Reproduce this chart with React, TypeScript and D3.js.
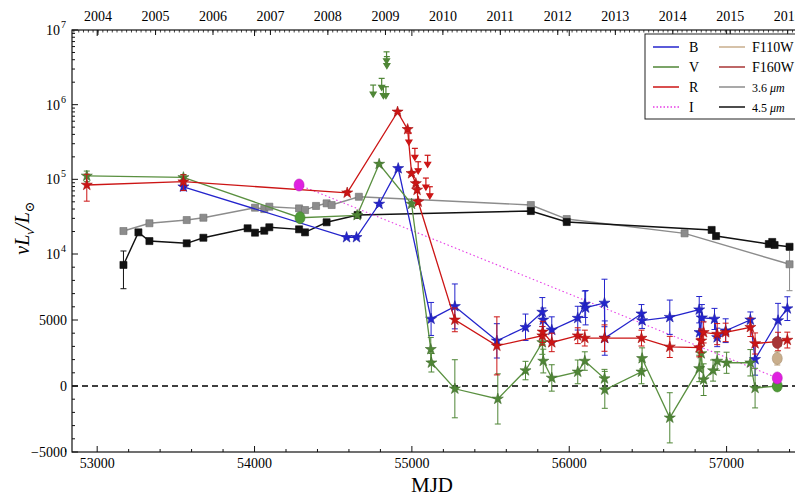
import React from 'react';
import * as d3 from 'd3';

// [MJD, nuL_nu / L_sun, error]
const bBand = [
  [53548, 79500, 9000], [54585, 16700, 600], [54648, 16700, 600], [54792, 46700, 2000],
  [54913, 140000, 5000], [55122, 5080, 1250], [55273, 6030, 1700], [55540, 3420, 1300],
  [55722, 4450, 1000], [55829, 5600, 1100], [55835, 5010, 900], [55889, 4240, 1000],
  [56054, 5140, 900], [56099, 6190, 1000], [56104, 5930, 1300], [56224, 6290, 1800],
  [56226, 3630, 1300], [56459, 5470, 700], [56463, 4960, 600], [56639, 5210, 1300],
  [56826, 5780, 1000], [56828, 4060, 1200], [56843, 5170, 1000], [56923, 5080, 800],
  [56940, 3680, 700], [56994, 4190, 900], [57151, 5010, 600], [57181, 2020, 1200],
  [57327, 4960, 1300], [57386, 5860, 900],
];
const vBand = [
  [52934, 111000, 18000], [53548, 106000, 10000], [54289, 30600, 2000], [54652, 33000, 2000],
  [54792, 160000, 8000], [54998, 46700, 3000], [55120, 2780, 900], [55124, 1760, 700],
  [55273, -210, 2200], [55546, -980, 1900], [55722, 1170, 700], [55829, 3300, 900],
  [55835, 1890, 900], [55889, 610, 1000], [56054, 1070, 900], [56099, 1890, 700],
  [56224, 560, 700], [56226, -290, 1400], [56459, 1070, 900], [56463, 2090, 800],
  [56639, -2410, 1900], [56826, 1330, 1000], [56839, 2460, 1000], [56854, 480, 1200],
  [56914, 1170, 800], [56940, 1890, 700], [57000, 1760, 800], [57151, 1760, 1000],
  [57181, -160, 1500], [57322, 0, 200],
];
// V points measured with HST (drawn as circles)
const vHst = [54289, 57322];
const rBand = [
  [52934, 84000, 33000], [53548, 93000, 22000], [54589, 66000, 4000], [54909, 800000, 40000],
  [54973, 467000, 20000], [54998, 120000, 8000], [55025, 88000, 6000], [55033, 72000, 5000],
  [55040, 50000, 4000], [55273, 5010, 900], [55540, 3040, 2200], [55829, 3810, 700],
  [55831, 4100, 800], [55889, 3300, 700], [56054, 3810, 600], [56099, 3630, 600],
  [56224, 3630, 1000], [56459, 3630, 600], [56639, 2960, 800], [56826, 2910, 700],
  [56839, 3420, 900], [56854, 4060, 800], [56940, 3930, 800], [56994, 4060, 700],
  [57151, 4450, 700], [57181, 3220, 800], [57327, 3370, 700], [57386, 3480, 600],
];
const iBand = [[54283, 84000, 0], [57322, 610, 150]];
const f110w = [[57322, 2090, 500]];
const f160w = [[57322, 3300, 300]];
const irac36 = [
  [53167, 20300, 0], [53332, 25800, 0], [53569, 28500, 0], [53675, 30600, 0], [54003, 41700, 0],
  [54062, 40000, 0], [54094, 43000, 0], [54283, 40800, 0], [54321, 38800, 0], [54391, 44000, 0],
  [54458, 47700, 0], [54490, 45300, 0], [54663, 58400, 0], [55756, 45300, 0], [55984, 29400, 0],
  [56733, 18900, 0], [57400, 9220, 2000],
];
const irac45 = [
  [53167, 9170, 1800], [53262, 19500, 0], [53332, 14900, 0], [53569, 13900, 0], [53675, 16500, 0],
  [53956, 22100, 0], [54003, 19300, 0], [54062, 20500, 0], [54094, 22800, 0], [54283, 21400, 0],
  [54321, 19500, 0], [54458, 26600, 0], [54655, 33300, 0], [55756, 37600, 0], [55984, 26800, 0],
  [56905, 21000, 0], [56933, 17400, 0], [57268, 13600, 0], [57290, 14500, 0], [57305, 13200, 0],
  [57400, 12500, 0],
];
// upper limits [MJD, limit]
const vLimits = [[54839, 5100000], [54841, 4400000], [54808, 2250000], [54754, 1830000], [54819, 1740000], [54835, 1740000]];
const rLimits = [[54981, 417000], [55019, 260000], [55040, 172000], [55100, 210000], [55089, 104000], [55114, 79600]];

const xTicks = [53000, 54000, 55000, 56000, 57000];
const linTicks = [-5000, 0, 5000];
const logTicks = [1e4, 1e5, 1e6, 1e7];

const legendLeft = [
  { label: 'B', color: '#2424cc', dash: null },
  { label: 'V', color: '#4f8636', dash: null },
  { label: 'R', color: '#cc1515', dash: null },
  { label: 'I', color: '#e63ce6', dash: '1.5 2' },
];
const legendRight = [
  { label: 'F110W', color: '#c9ae8c' },
  { label: 'F160W', color: '#a83434' },
  { label: '3.6', color: '#8c8c8c' },
  { label: '4.5', color: '#111111' },
];

const L = 72, R = 810, T = 30, B = 452;

const toMjd = (d: Date) => d.getTime() / 86400000 + 40587;

export default function App() {
  const x = d3.scaleLinear().domain([52840, 57530]).range([L, R]);
  const lin = d3.scaleLinear().domain([-5000, 10000]).range([B, 254]);
  const lg = d3.scaleLog().domain([1e4, 1e7]).range([254, T]);
  const y = (v: number) => (v <= 1e4 ? lin(v) : lg(v));

  const line = d3.line<number[]>().x(d => x(d[0])).y(d => y(d[1]));
  const star = d3.symbol().type(d3.symbolStar).size(38)();
  const square = d3.symbol().type(d3.symbolSquare).size(50)();

  const errBars = (data: number[][], color: string, key: string) =>
    data.filter(d => d[2] > 0).map((d, i) => {
      const cx = x(d[0]);
      const y1 = y(d[1] + d[2]);
      const y2 = y(d[1] - d[2]);
      return (
        <g key={key + i} stroke={color} strokeWidth={1}>
          <line x1={cx} x2={cx} y1={y1} y2={y2} />
          <line x1={cx - 3} x2={cx + 3} y1={y1} y2={y1} />
          <line x1={cx - 3} x2={cx + 3} y1={y2} y2={y2} />
        </g>
      );
    });

  const limits = (data: number[][], color: string, key: string) =>
    data.map((d, i) => {
      const cx = x(d[0]);
      const cy = y(d[1]);
      return (
        <g key={key + i} stroke={color} fill={color} strokeWidth={1.2}>
          <line x1={cx - 3} x2={cx + 3} y1={cy} y2={cy} />
          <line x1={cx} x2={cx} y1={cy} y2={cy + 8} />
          <path d={`M${cx - 3},${cy + 7}L${cx + 3},${cy + 7}L${cx},${cy + 12}Z`} />
        </g>
      );
    });

  const markers = (data: number[][], path: string, color: string, key: string) =>
    data.map((d, i) => (
      <path key={key + i} d={path} transform={`translate(${x(d[0])},${y(d[1])})`}
        fill={color} stroke={d3.color(color)!.darker(0.6).toString()} strokeWidth={0.6} />
    ));

  const circles = (data: number[][], color: string, key: string) =>
    data.map((d, i) => (
      <ellipse key={key + i} cx={x(d[0])} cy={y(d[1])} rx={5} ry={6}
        fill={color} stroke={d3.color(color)!.darker(0.5).toString()} strokeWidth={0.6} />
    ));

  const years = d3.utcYear.range(new Date(Date.UTC(2004, 0, 1)), new Date(Date.UTC(2017, 0, 2)));
  const months = d3.utcMonth.range(new Date(Date.UTC(2003, 0, 1)), new Date(Date.UTC(2017, 0, 2)));

  const minorX = d3.range(52800, 57600, 200).filter(v => v % 1000 !== 0);
  const minorLin = d3.range(-5000, 10000, 1000).filter(v => v % 5000 !== 0);
  const minorLog: number[] = [];
  [1e4, 1e5, 1e6].forEach(p => d3.range(2, 10).forEach(k => minorLog.push(k * p)));

  const vStars = vBand.filter(d => !vHst.includes(d[0]));
  const vCirc = vBand.filter(d => vHst.includes(d[0]));

  const lx = 645;

  return (
    <svg width={795} height={496} style={{ position: 'absolute', left: 0, top: 0, background: '#fff' }}
      fontFamily='"Liberation Serif", "DejaVu Serif", serif'>
      <defs>
        <clipPath id="plotArea"><rect x={L} y={T} width={R - L} height={B - T} /></clipPath>
      </defs>

      <g clipPath="url(#plotArea)">
        <line x1={L} x2={R} y1={y(0)} y2={y(0)} stroke="#000" strokeWidth={1.5} strokeDasharray="6 4" />

        {/* Spitzer */}
        {errBars(irac36, '#8c8c8c', 'e36')}
        <path d={line(irac36)!} fill="none" stroke="#8c8c8c" strokeWidth={1.4} />
        {markers(irac36, square, '#8c8c8c', 'm36')}
        {errBars(irac45, '#111', 'e45')}
        <path d={line(irac45)!} fill="none" stroke="#111" strokeWidth={1.4} />
        {markers(irac45, square, '#111111', 'm45')}

        {/* I */}
        <path d={line(iBand)!} fill="none" stroke="#e63ce6" strokeWidth={1.1} strokeDasharray="1.5 2.5" />

        {/* B */}
        {errBars(bBand, '#2424cc', 'eb')}
        <path d={line(bBand)!} fill="none" stroke="#2424cc" strokeWidth={1.3} />
        {markers(bBand, star, '#2424cc', 'mb')}

        {/* V */}
        {errBars(vBand, '#4f8636', 'ev')}
        <path d={line(vBand)!} fill="none" stroke="#5a9040" strokeWidth={1.3} />
        {markers(vStars, star, '#4f8636', 'mv')}
        {circles(vCirc, '#4f9a36', 'cv')}
        {limits(vLimits, '#4f8636', 'lv')}

        {/* R */}
        {errBars(rBand, '#cc1515', 'er')}
        <path d={line(rBand)!} fill="none" stroke="#cc1515" strokeWidth={1.3} />
        {markers(rBand, star, '#cc1515', 'mr')}
        {limits(rLimits, '#cc1515', 'lr')}

        {/* HST */}
        {errBars(f110w, '#b89a70', 'e110')}
        {circles(f110w, '#c9ae8c', 'c110')}
        {errBars(f160w, '#8a2a2a', 'e160')}
        {circles(f160w, '#a83434', 'c160')}
        {circles(iBand, '#e020e0', 'ci')}
      </g>

      {/* frame */}
      <rect x={L} y={T} width={R - L} height={B - T} fill="none" stroke="#111" strokeWidth={1.2} />

      {/* bottom axis */}
      {xTicks.map(t => (
        <g key={'xt' + t}>
          <line x1={x(t)} x2={x(t)} y1={B} y2={B - 6} stroke="#111" />
          <line x1={x(t)} x2={x(t)} y1={T} y2={T + 6} stroke="#111" />
          <text x={x(t)} y={B + 16} textAnchor="middle" fontSize={14}>{t}</text>
        </g>
      ))}
      {minorX.map(t => (
        <line key={'xm' + t} x1={x(t)} x2={x(t)} y1={B} y2={B - 3} stroke="#111" />
      ))}

      {/* top axis, years */}
      {years.map(d => (
        <g key={'yr' + d.getUTCFullYear()}>
          <line x1={x(toMjd(d))} x2={x(toMjd(d))} y1={T} y2={T + 5} stroke="#111" />
          <text x={x(toMjd(d))} y={T - 9} textAnchor="middle" fontSize={14}>{d3.utcFormat('%Y')(d)}</text>
        </g>
      ))}
      {months.filter(d => x(toMjd(d)) > L && x(toMjd(d)) < R).map((d, i) => (
        <line key={'mo' + i} x1={x(toMjd(d))} x2={x(toMjd(d))} y1={T} y2={T + 2.5} stroke="#111" strokeWidth={0.8} />
      ))}

      {/* left axis */}
      {linTicks.map(t => (
        <g key={'yl' + t}>
          <line x1={L} x2={L + 6} y1={y(t)} y2={y(t)} stroke="#111" />
          <text x={L - 5} y={y(t) + 5} textAnchor="end" fontSize={14}>{t < 0 ? '\u2212' + Math.abs(t) : t}</text>
        </g>
      ))}
      {logTicks.map(t => (
        <g key={'yg' + t}>
          <line x1={L} x2={L + 6} y1={y(t)} y2={y(t)} stroke="#111" />
          <text x={L - 12} y={y(t) + 5} textAnchor="end" fontSize={14}>10</text>
          <text x={L - 6} y={y(t) - 2} textAnchor="end" fontSize={10}>{Math.round(Math.log10(t))}</text>
        </g>
      ))}
      {minorLin.concat(minorLog).map(t => (
        <line key={'ym' + t} x1={L} x2={L + 3} y1={y(t)} y2={y(t)} stroke="#111" />
      ))}

      {/* axis titles */}
      <text x={432} y={492} textAnchor="middle" fontSize={21}>MJD</text>
      <text transform="translate(29,228) rotate(-90)" textAnchor="middle" fontSize={20} fontStyle="italic">
        <tspan>νL</tspan><tspan fontSize={13} dy={5}>ν</tspan><tspan dy={-5}>/L</tspan><tspan fontSize={13} dy={5}>⊙</tspan>
      </text>

      {/* legend */}
      <rect x={lx} y={34} width={180} height={85} fill="#fff" stroke="#222" strokeWidth={1} />
      {legendLeft.map((d, i) => (
        <g key={'ll' + i}>
          <line x1={lx + 8} x2={lx + 34} y1={47 + i * 20} y2={47 + i * 20} stroke={d.color} strokeWidth={1.5}
            strokeDasharray={d.dash || undefined} />
          <text x={lx + 44} y={52 + i * 20} fontSize={14}>{d.label}</text>
        </g>
      ))}
      {legendRight.map((d, i) => (
        <g key={'lr' + i}>
          <line x1={lx + 74} x2={lx + 100} y1={47 + i * 20} y2={47 + i * 20} stroke={d.color} strokeWidth={1.5} />
          <text x={lx + 107} y={52 + i * 20} fontSize={i < 2 ? 14 : 12}>
            {d.label}{i >= 2 ? <tspan fontStyle="italic"> μm</tspan> : null}
          </text>
        </g>
      ))}
    </svg>
  );
}
